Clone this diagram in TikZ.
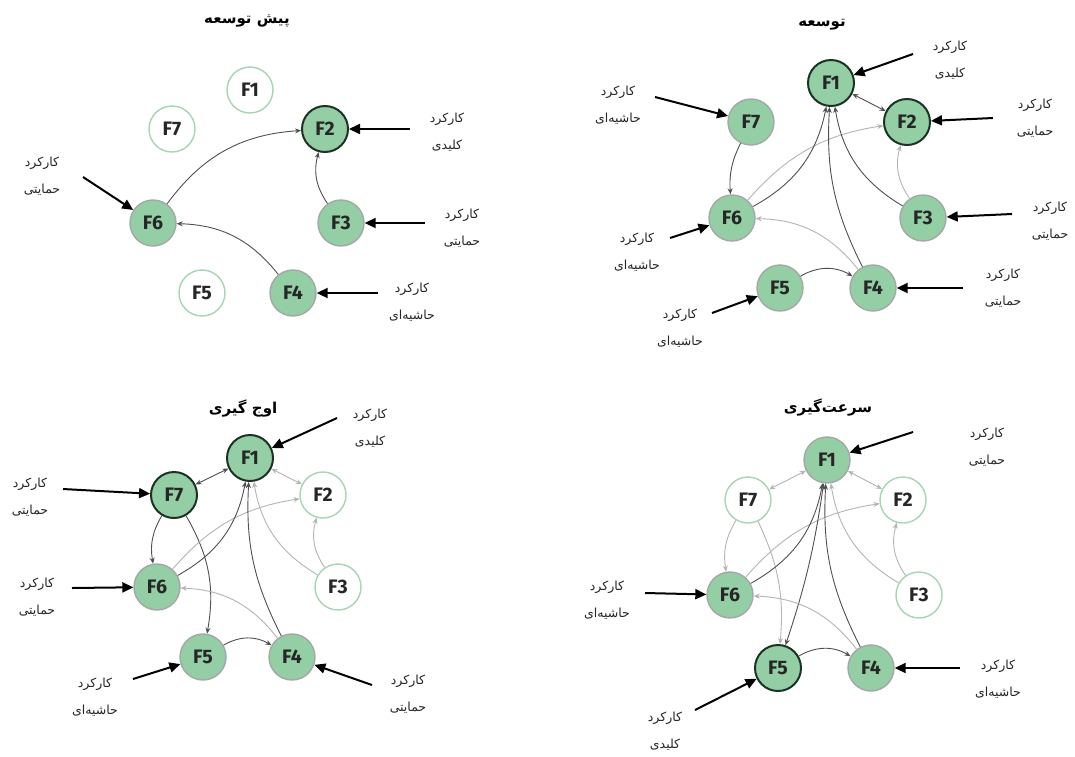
\documentclass[tikz,border=0pt]{standalone}
\usepackage{fontspec}
\usetikzlibrary{arrows.meta}
\TeXXeTstate=1
\setmainfont{Fira Sans}
\newfontfamily\arabicfont[Script=Arabic]{DejaVu Sans}
\newcommand\lblfont{\arabicfont\fontsize{12.5}{27}\selectfont}
\newcommand\ttlfont{\arabicfont\bfseries\fontsize{15}{17}\selectfont}
\newcommand\nfont{\bfseries\fontsize{19.5}{20}\selectfont}
\definecolor{ngreen}{HTML}{93CEA5}
\definecolor{ngrey}{HTML}{A4A8A5}
\definecolor{kdark}{HTML}{1C3323}
\definecolor{wborder}{HTML}{A6D4B4}
\definecolor{edark}{HTML}{505050}
\definecolor{elight}{HTML}{B4B4B4}
\tikzset{
  fn/.style={circle, minimum size=46pt, inner sep=0pt, fill=ngreen, draw=ngrey, line width=1.4pt, font=\nfont, text=black!85},
  keyn/.style={fn, draw=kdark, line width=2pt},
  wn/.style={fn, fill=white, draw=wborder},
  dk/.style={-{Stealth[length=6pt,width=5pt]}, draw=edark, line width=0.9pt},
  lt/.style={-{Stealth[length=6pt,width=5pt]}, draw=elight, line width=0.9pt},
  dkd/.style={dk, {Stealth[length=6pt,width=5pt]}-{Stealth[length=6pt,width=5pt]}},
  ltd/.style={lt, {Stealth[length=6pt,width=5pt]}-{Stealth[length=6pt,width=5pt]}},
  inarr/.style={-{Triangle[length=11pt,width=10pt]}, line width=2pt, black},
  lbl/.style={font=\lblfont, align=center, text=black!85},
  ttl/.style={font=\ttlfont},
}
\newcommand\RL[1]{\beginR #1\endR}
\begin{document}
\begin{tikzpicture}[x=1pt,y=1pt]
\fill[white] (0,0) rectangle (1075,-756);
\useasboundingbox (0,0) rectangle (1075,-756);

% ===== Q1 =====
\node[ttl] (q1t) at (247,-21) {\RL{پیش توسعه}};
\node[wn] (q1F1) at (250,-90) {F1};
\node[wn] (q1F7) at (172,-129) {F7};
\node[keyn] (q1F2) at (325,-129) {F2};
\node[fn] (q1F6) at (153,-223) {F6};
\node[fn] (q1F3) at (341,-223) {F3};
\node[wn] (q1F5) at (202,-293) {F5};
\node[fn] (q1F4) at (293,-293) {F4};
\draw[dk] (q1F6) to[bend left=25] (q1F2);
\draw[dk] (q1F3) to[bend left=25] (q1F2);
\draw[dk] (q1F4) to[bend right=25] (q1F6);
\node[lbl] (q1l2) at (447,-132) {\RL{کارکرد}\\\RL{کلیدی}};
\node[lbl] (q1l3) at (462,-228) {\RL{کارکرد}\\\RL{حمایتی}};
\node[lbl] (q1l4) at (412,-302) {\RL{کارکرد}\\\RL{حاشیه‌ای}};
\node[lbl] (q1l6) at (42,-176) {\RL{کارکرد}\\\RL{حمایتی}};
\coordinate (q1a2) at (410,-129);
\coordinate (q1a3) at (425,-223);
\coordinate (q1a4) at (378,-293);
\coordinate (q1a6) at (83,-177);
\draw[inarr] (q1a2) -- (q1F2);
\draw[inarr] (q1a3) -- (q1F3);
\draw[inarr] (q1a4) -- (q1F4);
\draw[inarr] (q1a6) -- (q1F6);

% ===== Q2 =====
\node[ttl] (q2t) at (822,-25) {\RL{توسعه}};
\node[keyn] (q2F1) at (831,-83) {F1};
\node[keyn] (q2F2) at (907,-122) {F2};
\node[fn] (q2F7) at (751,-122) {F7};
\node[fn] (q2F6) at (732,-218) {F6};
\node[fn] (q2F3) at (923,-218) {F3};
\node[fn] (q2F5) at (780,-288) {F5};
\node[fn] (q2F4) at (873,-288) {F4};
\draw[dkd] (q2F1) -- (q2F2);
\draw[dk] (q2F7) to[bend right=15] (q2F6);
\draw[lt] (q2F6) to[bend left=20] (q2F2);
\draw[dk] (q2F6) to[bend right=25] (q2F1);
\draw[lt] (q2F3) to[bend left=25] (q2F2);
\draw[dk] (q2F3) to[bend left=25] (q2F1);
\draw[lt] (q2F4) to[bend right=25] (q2F6);
\draw[dk] (q2F4) to[bend left=15] (q2F1);
\draw[dk] (q2F5) to[bend left=30] (q2F4);
\node[lbl] (q2l1) at (950,-60) {\RL{کارکرد}\\\RL{کلیدی}};
\node[lbl] (q2l2) at (1035,-118) {\RL{کارکرد}\\\RL{حمایتی}};
\node[lbl] (q2l7) at (618,-105) {\RL{کارکرد}\\\RL{حاشیه‌ای}};
\node[lbl] (q2l6) at (637,-252) {\RL{کارکرد}\\\RL{حاشیه‌ای}};
\node[lbl] (q2l3) at (1050,-221) {\RL{کارکرد}\\\RL{حمایتی}};
\node[lbl] (q2l4) at (1003,-288) {\RL{کارکرد}\\\RL{حمایتی}};
\node[lbl] (q2l5) at (680,-328) {\RL{کارکرد}\\\RL{حاشیه‌ای}};
\coordinate (q2a1) at (913,-54);
\coordinate (q2a2) at (993,-118);
\coordinate (q2a7) at (655,-97);
\coordinate (q2a6) at (670,-238);
\coordinate (q2a3) at (1012,-214);
\coordinate (q2a4) at (963,-288);
\coordinate (q2a5) at (712,-313);
\draw[inarr] (q2a1) -- (q2F1);
\draw[inarr] (q2a2) -- (q2F2);
\draw[inarr] (q2a7) -- (q2F7);
\draw[inarr] (q2a6) -- (q2F6);
\draw[inarr] (q2a3) -- (q2F3);
\draw[inarr] (q2a4) -- (q2F4);
\draw[inarr] (q2a5) -- (q2F5);

% ===== Q3 =====
\node[ttl] (q3t) at (243,-408) {\RL{اوج گیری}};
\node[keyn] (q3F1) at (250,-458) {F1};
\node[keyn] (q3F7) at (174,-495) {F7};
\node[wn] (q3F2) at (323,-495) {F2};
\node[fn] (q3F6) at (157,-587) {F6};
\node[wn] (q3F3) at (338,-587) {F3};
\node[fn] (q3F5) at (203,-657) {F5};
\node[fn] (q3F4) at (292,-657) {F4};
\draw[dkd] (q3F7) -- (q3F1);
\draw[ltd] (q3F1) -- (q3F2);
\draw[dk] (q3F7) to[bend right=20] (q3F6);
\draw[dk] (q3F7) to[bend left=20] (q3F5);
\draw[lt] (q3F6) to[bend left=20] (q3F2);
\draw[dk] (q3F6) to[bend right=25] (q3F1);
\draw[lt] (q3F3) to[bend left=25] (q3F2);
\draw[lt] (q3F3) to[bend left=25] (q3F1);
\draw[lt] (q3F4) to[bend right=25] (q3F6);
\draw[dk] (q3F4) to[bend left=15] (q3F1);
\draw[dk] (q3F5) to[bend left=30] (q3F4);
\node[lbl] (q3l1) at (370,-428) {\RL{کارکرد}\\\RL{کلیدی}};
\node[lbl] (q3l7) at (30,-497) {\RL{کارکرد}\\\RL{حمایتی}};
\node[lbl] (q3l6) at (37,-597) {\RL{کارکرد}\\\RL{حمایتی}};
\node[lbl] (q3l5) at (95,-697) {\RL{کارکرد}\\\RL{حاشیه‌ای}};
\node[lbl] (q3l4) at (408,-694) {\RL{کارکرد}\\\RL{حمایتی}};
\coordinate (q3a1) at (337,-418);
\coordinate (q3a7) at (63,-489);
\coordinate (q3a6) at (72,-588);
\coordinate (q3a5) at (133,-679);
\coordinate (q3a4) at (372,-685);
\draw[inarr] (q3a1) -- (q3F1);
\draw[inarr] (q3a7) -- (q3F7);
\draw[inarr] (q3a6) -- (q3F6);
\draw[inarr] (q3a5) -- (q3F5);
\draw[inarr] (q3a4) -- (q3F4);

% ===== Q4 =====
\node[ttl] (q4t) at (828,-407) {\RL{سرعت‌گیری}};
\node[fn] (q4F1) at (827,-460) {F1};
\node[wn] (q4F7) at (748,-500) {F7};
\node[wn] (q4F2) at (903,-500) {F2};
\node[fn] (q4F6) at (730,-595) {F6};
\node[wn] (q4F3) at (919,-595) {F3};
\node[keyn] (q4F5) at (778,-668) {F5};
\node[fn] (q4F4) at (871,-668) {F4};
\draw[ltd] (q4F7) -- (q4F1);
\draw[ltd] (q4F1) -- (q4F2);
\draw[lt] (q4F7) to[bend right=20] (q4F6);
\draw[lt] (q4F7) to[bend left=15] (q4F5);
\draw[lt] (q4F6) to[bend left=20] (q4F2);
\draw[dk] (q4F6) to[bend right=25] (q4F1);
\draw[lt] (q4F3) to[bend left=25] (q4F2);
\draw[lt] (q4F3) to[bend left=25] (q4F1);
\draw[dkd] (q4F1) to[bend left=5] (q4F5);
\draw[lt] (q4F4) to[bend right=25] (q4F6);
\draw[dk] (q4F4) to[bend left=15] (q4F1);
\draw[dk] (q4F5) to[bend left=30] (q4F4);
\node[lbl] (q4l1) at (987,-447) {\RL{کارکرد}\\\RL{حمایتی}};
\node[lbl] (q4l6) at (607,-600) {\RL{کارکرد}\\\RL{حاشیه‌ای}};
\node[lbl] (q4l4) at (998,-679) {\RL{کارکرد}\\\RL{حاشیه‌ای}};
\node[lbl] (q4l5) at (665,-731) {\RL{کارکرد}\\\RL{کلیدی}};
\coordinate (q4a1) at (913,-432);
\coordinate (q4a6) at (645,-593);
\coordinate (q4a4) at (960,-668);
\coordinate (q4a5) at (695,-710);
\draw[inarr] (q4a1) -- (q4F1);
\draw[inarr] (q4a6) -- (q4F6);
\draw[inarr] (q4a4) -- (q4F4);
\draw[inarr] (q4a5) -- (q4F5);
\end{tikzpicture}
\end{document}
